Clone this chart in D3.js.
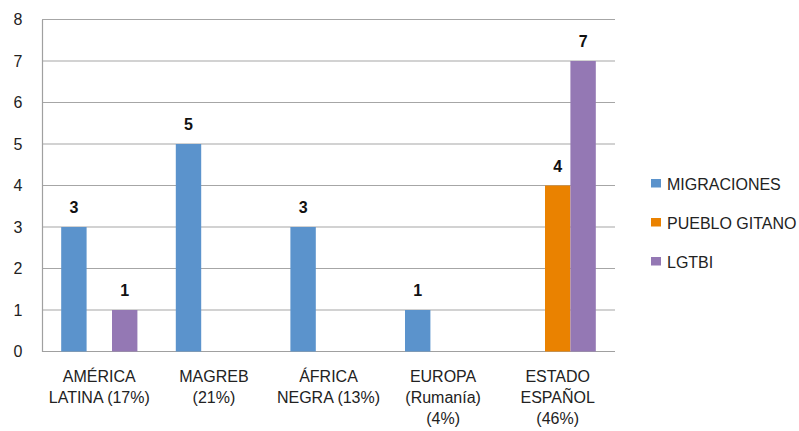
<!DOCTYPE html>
<html>
<head>
<meta charset="utf-8">
<script src="https://cdn.jsdelivr.net/npm/d3@7"></script>
<style>
  html, body { margin: 0; padding: 0; background: #fff; }
  svg { display: block; font-family: "Liberation Sans", Arial, sans-serif; }
</style>
</head>
<body>
<svg id="chart" width="799" height="431"></svg>
<script>
// Categories (each label split into lines)
const categories = ["AMÉRICA LATINA", "MAGREB", "ÁFRICA NEGRA", "EUROPA", "ESTADO ESPAÑOL"];
const categoryLines = [
  ["AMÉRICA", "LATINA (17%)"],
  ["MAGREB", "(21%)"],
  ["ÁFRICA", "NEGRA (13%)"],
  ["EUROPA", "(Rumanía)", "(4%)"],
  ["ESTADO", "ESPAÑOL", "(46%)"]
];
const seriesNames = ["MIGRACIONES", "PUEBLO GITANO", "LGTBI"];
const migraciones  = [3, 5, 3, 1, 0];
const puebloGitano = [0, 0, 0, 0, 4];
const lgtbi        = [1, 0, 0, 0, 7];
const yTicks = [0, 1, 2, 3, 4, 5, 6, 7, 8];
const colors = ["#5b93cc", "#ea8200", "#9478b4"];

const seriesValues = [migraciones, puebloGitano, lgtbi];
const svg = d3.select("#chart");

const plot = { left: 42, right: 615, top: 19.5, bottom: 351.5 };

const x = d3.scaleBand().domain(categories).range([plot.left, plot.right]).paddingInner(0.335).paddingOuter(0.1675);
const xs = d3.scaleBand().domain(seriesNames).range([0, x.bandwidth()]);
const y = d3.scaleLinear().domain([0, 8]).range([plot.bottom, plot.top]);

// Gridlines
svg.append("g").selectAll("line").data(yTicks.filter(d => d > 0)).join("line")
  .attr("x1", plot.left).attr("x2", plot.right)
  .attr("y1", d => y(d)).attr("y2", d => y(d))
  .attr("stroke", "#a6a6a6").attr("stroke-width", 1.2);

// Y axis
const yAxis = svg.append("g").attr("transform", `translate(${plot.left},0)`)
  .call(d3.axisLeft(y).tickValues(yTicks).tickSize(0).tickPadding(24));
yAxis.select(".domain").attr("stroke", "#a0a0a0").attr("stroke-width", 1.2);
yAxis.selectAll("text").attr("font-size", 16).attr("fill", "#222")
  .attr("font-family", "Liberation Sans, Arial, sans-serif").attr("text-anchor", "middle");

// X axis baseline
svg.append("line").attr("x1", plot.left).attr("x2", plot.right)
  .attr("y1", y(0)).attr("y2", y(0)).attr("stroke", "#a0a0a0").attr("stroke-width", 1.2);

// Bars
const bars = [];
categories.forEach((c, i) => {
  seriesNames.forEach((s, j) => {
    const v = seriesValues[j][i];
    if (v > 0) bars.push({ c, s, v, j });
  });
});

svg.append("g").selectAll("rect").data(bars).join("rect")
  .attr("x", d => x(d.c) + xs(d.s))
  .attr("width", xs.bandwidth())
  .attr("y", d => y(d.v))
  .attr("height", d => y(0) - y(d.v))
  .attr("fill", d => colors[d.j]);

// Value labels
svg.append("g").selectAll("text").data(bars).join("text")
  .attr("x", d => x(d.c) + xs(d.s) + xs.bandwidth() / 2)
  .attr("y", d => y(d.v) - 14)
  .attr("text-anchor", "middle")
  .attr("font-size", 16).attr("font-weight", "bold").attr("fill", "#111")
  .text(d => d.v);

// Category labels
const cat = svg.append("g").selectAll("text").data(categories).join("text")
  .attr("text-anchor", "middle")
  .attr("font-size", 16).attr("fill", "#222")
  .attr("x", d => x(d) + x.bandwidth() / 2)
  .attr("y", 382);
cat.each(function(d, i) {
  d3.select(this).selectAll("tspan").data(categoryLines[i]).join("tspan")
    .attr("x", x(d) + x.bandwidth() / 2)
    .attr("dy", (t, k) => k === 0 ? 0 : 21)
    .text(t => t);
});

// Legend
const legend = svg.append("g").attr("transform", "translate(651,179)");
const li = legend.selectAll("g").data(seriesNames).join("g")
  .attr("transform", (d, i) => `translate(0,${i * 39})`);
li.append("rect").attr("width", 10).attr("height", 8.5).attr("fill", (d, i) => colors[i]);
li.append("text").attr("x", 16).attr("y", 11).attr("font-size", 16).attr("fill", "#222").text(d => d);
</script>
</body>
</html>
